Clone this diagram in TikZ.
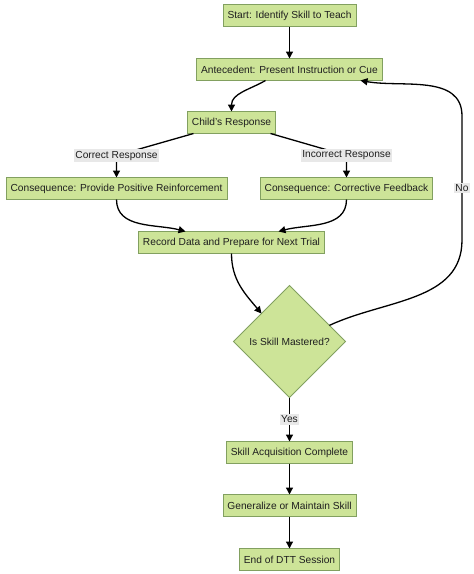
\documentclass[tikz,border=0pt]{standalone}
\usepackage{fontspec}
\setmainfont{Liberation Sans}
\usetikzlibrary{shapes.geometric,arrows.meta,positioning}
\definecolor{boxfill}{HTML}{CDE498}
\definecolor{boxline}{HTML}{82A060}
\definecolor{lblfill}{HTML}{E8E8E8}
\tikzstyle{arrow} = [line width=1.3pt,-{Triangle[length=7pt,width=7pt]}]
\tikzstyle{block} = [draw=boxline,fill=boxfill,line width=0.8pt,outer sep=0pt,minimum height=22pt,inner xsep=4.5pt,text=black!88,font=\fontsize{10.2}{12}\selectfont]
\tikzstyle{decision} = [diamond,aspect=1,draw=boxline,fill=boxfill,line width=0.8pt,outer sep=0pt,minimum width=112pt,minimum height=112pt,inner sep=0pt,text=black!88,font=\fontsize{10.2}{12}\selectfont]
\tikzstyle{lbl} = [fill=lblfill,inner sep=1.5pt,text=black!88,font=\fontsize{10.2}{12}\selectfont]

\begin{document}
\begin{tikzpicture}[x=1pt,y=1pt]
  \useasboundingbox (0,0) rectangle (474,-574);
  % steps of the trial
  \node[block] (start) at (289.5,-15.5) {Start: Identify Skill to Teach};
  \node[block, below=32pt of start] (ante) {Antecedent: Present Instruction or Cue};
  \node[block, below=31pt of ante, xshift=-58pt] (child) {Child's Response};
  \node[block, below=44pt of child, xshift=-115pt] (pos) {Consequence: Provide Positive Reinforcement};
  \node[block, below=44pt of child, xshift=115pt] (corr) {Consequence: Corrective Feedback};
  \node[block, below=98pt of child] (rec) {Record Data and Prepare for Next Trial};
  \node[decision, below=32pt of rec, xshift=58pt] (mast) {Is Skill Mastered?};
  \node[block, below=44pt of mast] (acq) {Skill Acquisition Complete};
  \node[block, below=31pt of acq] (gen) {Generalize or Maintain Skill};
  \node[block, below=32pt of gen] (fin) {End of DTT Session};
  \coordinate (nolow) at (462,-240);
  \coordinate (nohigh) at (462,-116);

  % connectors
  \draw[arrow] (start) -- (ante);
  \draw[arrow] ([xshift=-24pt]ante.south) to[out=-150,in=90] (child.north);
  \draw[arrow] ([xshift=-38pt]child.south) -- ([yshift=22pt]pos.north)
    node[lbl] {Correct Response} -- (pos.north);
  \draw[arrow] ([xshift=39pt]child.south) -- ([yshift=22pt]corr.north)
    node[lbl] {Incorrect Response} -- (corr.north);
  \draw[arrow] (pos.south) to[out=-90,in=165] ([xshift=-46pt]rec.north);
  \draw[arrow] (corr.south) to[out=-90,in=15] ([xshift=47pt]rec.north);
  \draw[arrow] (rec.south) to[out=-90,in=130] (mast.north west);
  \draw[arrow] (mast.22) to[out=25,in=-90] (nolow) -- (nohigh)
    node[lbl, pos=0.42] {No} to[out=90,in=-10] ([xshift=71pt]ante.south);
  \draw[arrow] (mast.south) -- (acq.north) node[lbl, midway] {Yes};
  \draw[arrow] (acq) -- (gen);
  \draw[arrow] (gen) -- (fin);
\end{tikzpicture}
\end{document}
